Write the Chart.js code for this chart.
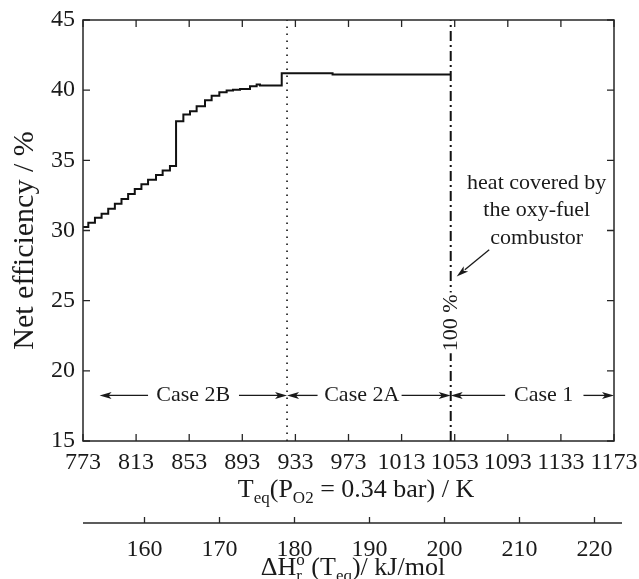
<!DOCTYPE html>
<html>
<head>
<meta charset="utf-8">
<script src="https://cdn.jsdelivr.net/npm/chart.js@4.4.1/dist/chart.umd.min.js"></script>
<style>
  html, body { margin: 0; padding: 0; background: #fff; }
  canvas { display: block; }
</style>
</head>
<body>
<canvas id="chart" width="639" height="579"></canvas>
<script>
// Net efficiency vs. equilibrium temperature (step profile)
const tempK = [773, 777, 782, 787, 792, 797, 802, 807, 812, 817, 822, 828, 833, 838.5,
               843.1, 848.6, 853.6, 858.6, 864.9, 869.9, 875.7, 881.2, 886, 891.3, 898.8,
               903.8, 906.3, 922.7, 961, 1050];
const netEff = [30.25, 30.55, 30.9, 31.2, 31.55, 31.9, 32.24, 32.6, 32.95, 33.3, 33.62, 33.95, 34.28, 34.6,
                37.78, 38.26, 38.49, 38.85, 39.28, 39.61, 39.85, 39.97, 40.03, 40.09, 40.28,
                40.40, 40.33, 41.2, 41.12, 41.12];

// Axis ticks
const tempTicks = [773, 813, 853, 893, 933, 973, 1013, 1053, 1093, 1133, 1173];
const effTicks = [15, 20, 25, 30, 35, 40, 45];
const enthalpyTicks = [160, 170, 180, 190, 200, 210, 220];
const enthalpyRange = [151.8, 222.6];

// Regime boundaries and labels
const caseBoundaries = [926.7, 1050];
const caseNames = ['Case 2B', 'Case 2A', 'Case 1'];
const caseTextT = [856, 983, 1120];
const caseArrowEff = 18.25;
// [from, to] with the head at "to"
const caseArrowsT = [[822, 785.5], [890.5, 926.7], [949.7, 926.7], [1013, 1050], [1091, 1050], [1150, 1173]];

// Note on the 100 % line
const noteLines = ['heat covered by', 'the oxy-fuel', 'combustor'];
const noteT = 1114.8;
const noteEff = [33.4, 31.41, 29.48];
const noteArrow = [[1079, 28.63], [1054.5, 26.72]];
const fullLabel = '100 %';
const fullLabelPos = [1050, 23.42];

const INK = '#1a1a1a';
const AXIS = '#262626';
const SERIF = '"Liberation Serif", "Times New Roman", serif';

function arrowHead(ctx, x1, y1, x2, y2, len, half) {
  const dx = x2 - x1, dy = y2 - y1, d = Math.hypot(dx, dy) || 1;
  const ux = dx / d, uy = dy / d, nx = -uy, ny = ux;
  ctx.beginPath();
  ctx.moveTo(x2, y2);
  ctx.lineTo(x2 - ux * len + nx * half, y2 - uy * len + ny * half);
  ctx.lineTo(x2 - ux * (len - 3), y2 - uy * (len - 3));
  ctx.lineTo(x2 - ux * len - nx * half, y2 - uy * len - ny * half);
  ctx.closePath();
  ctx.fill();
}

function drawRuns(ctx, runs, x, baseline) {
  let cx = x;
  for (let i = 0; i < runs.length; i++) {
    const r = runs[i];
    ctx.font = r.size + 'px ' + SERIF;
    ctx.fillText(r.t, cx, baseline + (r.dy || 0));
    const w = ctx.measureText(r.t).width;
    if (r.stack) {
      const r2 = runs[++i];
      ctx.font = r2.size + 'px ' + SERIF;
      ctx.fillText(r2.t, cx, baseline + (r2.dy || 0));
      cx += Math.max(w, ctx.measureText(r2.t).width);
    } else {
      cx += w;
    }
  }
  return cx - x;
}
function runsWidth(ctx, runs) {
  let w = 0;
  for (let i = 0; i < runs.length; i++) {
    const r = runs[i];
    ctx.font = r.size + 'px ' + SERIF;
    let a = ctx.measureText(r.t).width;
    if (r.stack) {
      const r2 = runs[++i];
      ctx.font = r2.size + 'px ' + SERIF;
      a = Math.max(a, ctx.measureText(r2.t).width);
    }
    w += a;
  }
  return w;
}

const xTitleRuns = [
  { t: 'T', size: 26 }, { t: 'eq', size: 17, dy: 6 }, { t: '(P', size: 26 },
  { t: 'O2', size: 17, dy: 6 }, { t: ' = 0.34 bar) / K', size: 26 }
];
const x2TitleRuns = [
  { t: '\u0394H', size: 26 }, { t: 'o', size: 17, dy: -10, stack: true }, { t: 'r', size: 17, dy: 6 },
  { t: ' (T', size: 26 }, { t: 'eq', size: 17, dy: 6 }, { t: ')/ kJ/mol', size: 26 }
];

const framePlugin = {
  id: 'frame',
  beforeDraw(chart) {
    const c = chart.ctx;
    c.save();
    c.fillStyle = '#fff';
    c.fillRect(0, 0, chart.width, chart.height);
    c.restore();
  },
  afterDatasetsDraw(chart) {
    const { ctx, scales: { x, y } } = chart;
    ctx.save();
    ctx.fillStyle = INK;
    ctx.strokeStyle = INK;
    ctx.lineWidth = 1.3;

    // regime arrows and labels
    const ay = y.getPixelForValue(caseArrowEff);
    caseArrowsT.forEach(([a, b]) => {
      const xa = x.getPixelForValue(a), xb = x.getPixelForValue(b);
      const dir = Math.sign(xb - xa);
      ctx.beginPath();
      ctx.moveTo(xa, ay);
      ctx.lineTo(xb - dir * 8, ay);
      ctx.stroke();
      arrowHead(ctx, xa, ay, xb, ay, 12, 3.5);
    });
    ctx.font = '22px ' + SERIF;
    ctx.textAlign = 'center';
    ctx.textBaseline = 'middle';
    caseNames.forEach((n, i) => ctx.fillText(n, x.getPixelForValue(caseTextT[i]), ay));

    // note text and its arrow
    noteLines.forEach((l, i) => ctx.fillText(l, x.getPixelForValue(noteT), y.getPixelForValue(noteEff[i])));
    const n0x = x.getPixelForValue(noteArrow[0][0]), n0y = y.getPixelForValue(noteArrow[0][1]);
    const n1x = x.getPixelForValue(noteArrow[1][0]), n1y = y.getPixelForValue(noteArrow[1][1]);
    ctx.beginPath();
    ctx.moveTo(n0x, n0y);
    ctx.lineTo(n1x + (n0x - n1x) * 0.25, n1y + (n0y - n1y) * 0.25);
    ctx.stroke();
    arrowHead(ctx, n0x, n0y, n1x, n1y, 12, 3.5);

    // rotated label on the 100 % line
    const fx = x.getPixelForValue(fullLabelPos[0]), fy = y.getPixelForValue(fullLabelPos[1]);
    ctx.translate(fx, fy);
    ctx.rotate(-Math.PI / 2);
    const fw = ctx.measureText(fullLabel).width;
    ctx.fillStyle = '#fff';
    ctx.fillRect(-fw / 2 - 2, -9, fw + 4, 18);
    ctx.fillStyle = INK;
    ctx.fillText(fullLabel, 0, 1);
    ctx.restore();
  },
  afterDraw(chart) {
    const { ctx, chartArea: a, scales: { x, y, x2 } } = chart;
    ctx.save();
    ctx.strokeStyle = AXIS;
    ctx.lineWidth = 1.5;
    ctx.strokeRect(a.left, a.top, a.right - a.left, a.bottom - a.top);

    // inward tick marks on all four sides
    const tl = 7;
    ctx.lineWidth = 1.3;
    ctx.beginPath();
    x.ticks.forEach(t => {
      const px = x.getPixelForValue(t.value);
      ctx.moveTo(px, a.bottom); ctx.lineTo(px, a.bottom - tl);
      ctx.moveTo(px, a.top); ctx.lineTo(px, a.top + tl);
    });
    y.ticks.forEach(t => {
      const py = y.getPixelForValue(t.value);
      ctx.moveTo(a.left, py); ctx.lineTo(a.left + tl, py);
      ctx.moveTo(a.right, py); ctx.lineTo(a.right - tl, py);
    });
    ctx.stroke();

    // secondary enthalpy axis line with upward ticks
    const ly = x2.top;
    ctx.lineWidth = 1.5;
    ctx.beginPath();
    ctx.moveTo(a.left, ly); ctx.lineTo(a.right + 8, ly);
    ctx.stroke();
    ctx.lineWidth = 1.3;
    ctx.beginPath();
    x2.ticks.forEach(t => {
      const px = x2.getPixelForValue(t.value);
      ctx.moveTo(px, ly); ctx.lineTo(px, ly - 6);
    });
    ctx.stroke();

    // axis titles
    ctx.fillStyle = INK;
    ctx.textAlign = 'left';
    ctx.textBaseline = 'alphabetic';
    let w = runsWidth(ctx, xTitleRuns);
    drawRuns(ctx, xTitleRuns, 356 - w / 2, 497);
    w = runsWidth(ctx, x2TitleRuns);
    drawRuns(ctx, x2TitleRuns, 353 - w / 2, 575);

    ctx.translate(25, (a.top + a.bottom) / 2 + 10);
    ctx.rotate(-Math.PI / 2);
    ctx.font = '30px ' + SERIF;
    ctx.textAlign = 'center';
    ctx.textBaseline = 'middle';
    ctx.fillText('Net efficiency / %', 0, 0);
    ctx.restore();
  }
};

const tickFont = { family: SERIF, size: 24 };
const plain = v => String(v);

new Chart(document.getElementById('chart'), {
  type: 'line',
  data: {
    datasets: [
      {
        label: 'Net efficiency',
        data: tempK.map((t, i) => ({ x: t, y: netEff[i] })),
        borderColor: '#111',
        borderWidth: 2,
        stepped: true,
        pointRadius: 0,
        fill: false
      },
      {
        label: 'Case 2B / 2A boundary',
        data: [{ x: caseBoundaries[0], y: 15 }, { x: caseBoundaries[0], y: 45 }],
        borderColor: '#111',
        borderWidth: 1.6,
        borderDash: [1.6, 5.4],
        pointRadius: 0
      },
      {
        label: 'Case 2A / 1 boundary',
        data: [{ x: caseBoundaries[1], y: 15 }, { x: caseBoundaries[1], y: 45 }],
        borderColor: '#111',
        borderWidth: 2,
        borderDash: [10, 4, 2, 4],
        pointRadius: 0
      }
    ]
  },
  options: {
    responsive: false,
    animation: false,
    devicePixelRatio: 1,
    layout: { padding: { top: 20, right: 25, bottom: 0, left: 0 } },
    plugins: { legend: { display: false }, tooltip: { enabled: false } },
    scales: {
      x: {
        type: 'linear', position: 'bottom', weight: 0,
        min: 773, max: 1173,
        afterBuildTicks: s => { s.ticks = tempTicks.map(v => ({ value: v })); },
        afterFit: s => { s.height = 82; s.paddingLeft = 0; s.paddingRight = 0; },
        grid: { display: false, drawTicks: false },
        border: { display: false },
        ticks: { padding: 7, color: INK, font: tickFont, maxRotation: 0, autoSkip: false, callback: plain }
      },
      x2: {
        type: 'linear', position: 'bottom', weight: 1,
        min: enthalpyRange[0], max: enthalpyRange[1],
        afterBuildTicks: s => { s.ticks = enthalpyTicks.map(v => ({ value: v })); },
        afterFit: s => { s.height = 56; s.paddingLeft = 0; s.paddingRight = 0; },
        grid: { display: false, drawTicks: false },
        border: { display: false },
        ticks: { padding: 12, color: INK, font: tickFont, maxRotation: 0, autoSkip: false, callback: plain }
      },
      y: {
        type: 'linear', position: 'left',
        min: 15, max: 45,
        afterBuildTicks: s => { s.ticks = effTicks.map(v => ({ value: v })); },
        afterFit: s => { s.width = 83; s.paddingTop = 0; s.paddingBottom = 0; },
        grid: { display: false, drawTicks: false },
        border: { display: false },
        ticks: { padding: 8, color: INK, font: tickFont, callback: plain }
      }
    }
  },
  plugins: [framePlugin]
});
</script>
</body>
</html>
